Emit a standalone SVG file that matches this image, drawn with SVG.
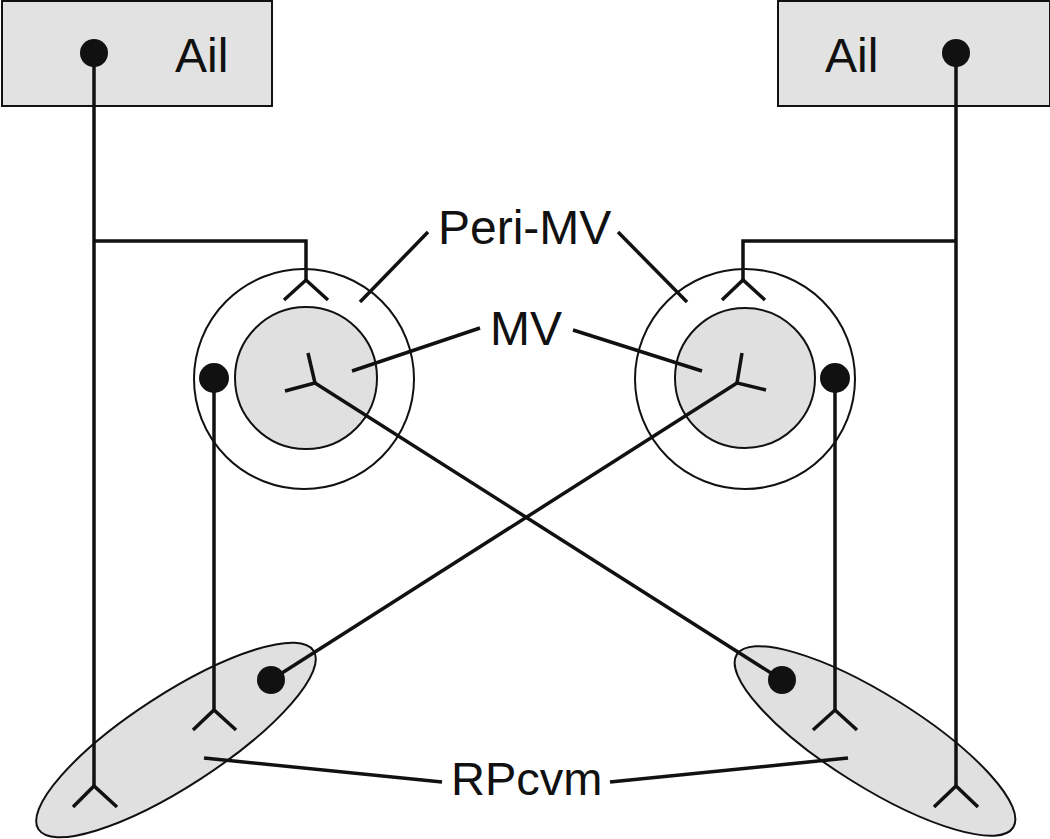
<svg xmlns="http://www.w3.org/2000/svg" width="1050" height="839" viewBox="0 0 1050 839">
<style>
.box{fill:#e2e2e2;stroke:#111;stroke-width:2}
.reg{fill:#e0e0e0;stroke:#111;stroke-width:2}
.ring{fill:none;stroke:#111;stroke-width:2}
.ln{fill:none;stroke:#111;stroke-width:3.5;stroke-linejoin:miter}
.dot{fill:#111}
text{font-family:"Liberation Sans",Arial,sans-serif;font-size:48px;fill:#111}
</style>
<rect width="1050" height="839" fill="#fff"/>
<g id="ail-left"><rect class="box" x="2" y="1" width="270" height="105"/><text x="175" y="72">Ail</text></g>
<g id="ail-right"><rect class="box" x="778" y="1" width="272" height="105"/><text x="825" y="72">Ail</text></g>
<g id="periMV-left"><circle class="ring" cx="304" cy="379" r="110"/></g>
<g id="MV-left"><circle class="reg" cx="306" cy="378" r="71"/></g>
<g id="periMV-right"><circle class="ring" cx="745" cy="379" r="110"/></g>
<g id="MV-right"><circle class="reg" cx="745" cy="378" r="70"/></g>
<g id="RPcvm-left"><ellipse class="reg" cx="176" cy="740" rx="164" ry="46" transform="rotate(-33 176 740)"/></g>
<g id="RPcvm-right"><ellipse class="reg" cx="875" cy="741" rx="163" ry="46" transform="rotate(32 875 741)"/></g>
<g id="labels">
<text x="438" y="244">Peri-MV</text>
<text x="490" y="345">MV</text>
<text x="451" y="795" style="font-size:47px">RPcvm</text>
</g>
<g id="connectors">
<line class="ln" x1="94" y1="55" x2="94" y2="786"/>
<polyline class="ln" points="73,807 94,786 117,807"/>
<polyline class="ln" points="94,241 306,241 306,280"/>
<polyline class="ln" points="284,300 306,280 328,300"/>
<line class="ln" x1="214" y1="378" x2="214" y2="710"/>
<polyline class="ln" points="193,730 214,710 236,730"/>
<polyline class="ln" points="308,353 315,383 285,391"/>
<line class="ln" x1="315" y1="383" x2="782" y2="680"/>
<line class="ln" x1="956" y1="55" x2="956" y2="786"/>
<polyline class="ln" points="934,807 956,786 978,807"/>
<polyline class="ln" points="956,241 743,241 743,280"/>
<polyline class="ln" points="722,300 743,280 765,300"/>
<line class="ln" x1="835" y1="378" x2="835" y2="710"/>
<polyline class="ln" points="813,730 835,710 857,730"/>
<polyline class="ln" points="742,353 737,383 766,390"/>
<line class="ln" x1="737" y1="383" x2="271" y2="680"/>
<line class="ln" x1="428" y1="232" x2="360" y2="302"/>
<line class="ln" x1="618" y1="232" x2="687" y2="302"/>
<line class="ln" x1="480" y1="328" x2="352" y2="371"/>
<line class="ln" x1="573" y1="330" x2="702" y2="371"/>
<line class="ln" x1="442" y1="782" x2="204" y2="758"/>
<line class="ln" x1="610" y1="782" x2="848" y2="758"/>
<circle class="dot" cx="94" cy="53" r="14"/>
<circle class="dot" cx="956" cy="53" r="14"/>
<circle class="dot" cx="214" cy="378" r="15"/>
<circle class="dot" cx="835" cy="378" r="15"/>
<circle class="dot" cx="271" cy="680" r="14"/>
<circle class="dot" cx="782" cy="680" r="14"/>
</g>
</svg>
